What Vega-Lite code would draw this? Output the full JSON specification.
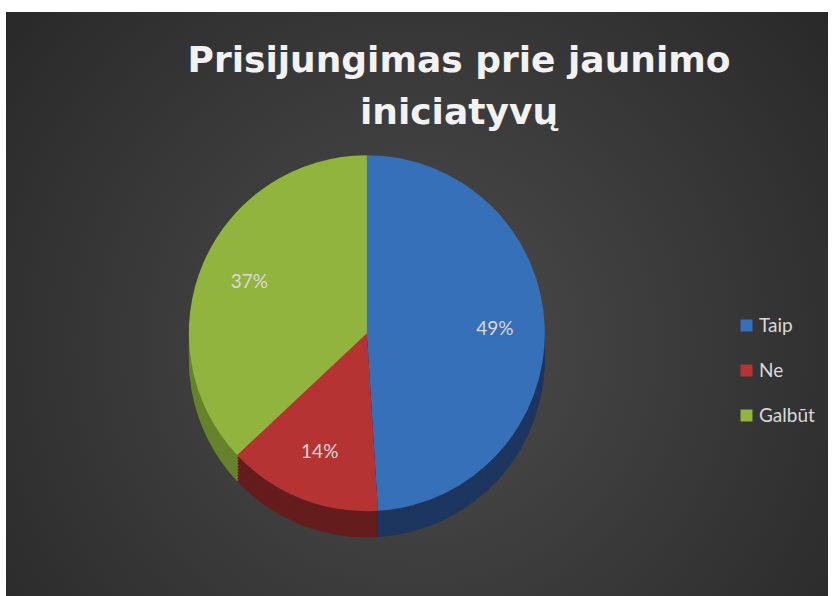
{
  "$schema": "https://vega.github.io/schema/vega-lite/v6.json",
  "width": 822,
  "height": 584,
  "autosize": {"type": "none"},
  "padding": {"left": 6, "top": 12, "right": 9, "bottom": 0},
  "background": "#ffffff",
  "config": {
    "view": {
      "stroke": null,
      "fill": {
        "gradient": "radial",
        "x1": 0.5, "y1": 0.55, "x2": 0.5, "y2": 0.55,
        "r1": 0, "r2": 0.75,
        "stops": [
          {"offset": 0, "color": "#4c4c4c"},
          {"offset": 1, "color": "#232323"}
        ]
      }
    },
    "legend": {
      "orient": "none",
      "legendX": 731,
      "legendY": 304,
      "symbolType": "square",
      "symbolSize": 144,
      "symbolStrokeWidth": 0,
      "labelFont": "Lato",
      "labelFontSize": 19,
      "labelColor": "#d9d9d9",
      "labelOffset": 3,
      "rowPadding": 25
    }
  },
  "title": {
    "text": ["Prisijungimas prie jaunimo", "iniciatyvų"],
    "font": "DejaVu Sans",
    "fontWeight": "bold",
    "fontSize": 36,
    "color": "#f2f2f2",
    "lineHeight": 52,
    "anchor": "middle",
    "baseline": "top",
    "dx": 42,
    "offset": -120
  },
  "data": {
    "values": [
      {"cat": "Taip", "value": 49, "ord": 1, "label": "49%"},
      {"cat": "Ne", "value": 14, "ord": 2, "label": "14%"},
      {"cat": "Galbūt", "value": 37, "ord": 3, "label": "37%"}
    ]
  },
  "encoding": {
    "theta": {"field": "value", "type": "quantitative", "stack": true},
    "order": {"field": "ord", "type": "quantitative"},
    "x": {"datum": 43.9, "type": "quantitative", "scale": {"domain": [0, 100]}, "axis": null}
  },
  "layer": [
    {
      "layer": [
        {"mark": {"type": "arc", "radius": 178}, "encoding": {"y": {"datum": 59.5, "type": "quantitative", "scale": {"domain": [0, 100], "reverse": true}, "axis": null}}},
        {"mark": {"type": "arc", "radius": 178}, "encoding": {"y": {"datum": 59, "type": "quantitative", "scale": {"domain": [0, 100], "reverse": true}, "axis": null}}},
        {"mark": {"type": "arc", "radius": 178}, "encoding": {"y": {"datum": 58.5, "type": "quantitative", "scale": {"domain": [0, 100], "reverse": true}, "axis": null}}},
        {"mark": {"type": "arc", "radius": 178}, "encoding": {"y": {"datum": 58, "type": "quantitative", "scale": {"domain": [0, 100], "reverse": true}, "axis": null}}},
        {"mark": {"type": "arc", "radius": 178}, "encoding": {"y": {"datum": 57.5, "type": "quantitative", "scale": {"domain": [0, 100], "reverse": true}, "axis": null}}},
        {"mark": {"type": "arc", "radius": 178}, "encoding": {"y": {"datum": 57, "type": "quantitative", "scale": {"domain": [0, 100], "reverse": true}, "axis": null}}},
        {"mark": {"type": "arc", "radius": 178}, "encoding": {"y": {"datum": 56.5, "type": "quantitative", "scale": {"domain": [0, 100], "reverse": true}, "axis": null}}},
        {"mark": {"type": "arc", "radius": 178}, "encoding": {"y": {"datum": 56, "type": "quantitative", "scale": {"domain": [0, 100], "reverse": true}, "axis": null}}},
        {"mark": {"type": "arc", "radius": 178}, "encoding": {"y": {"datum": 55.5, "type": "quantitative", "scale": {"domain": [0, 100], "reverse": true}, "axis": null}}}
      ],
      "encoding": {
        "color": {"field": "cat", "type": "nominal", "legend": null,
          "scale": {"domain": ["Taip", "Ne", "Galbūt"], "range": ["#1d365f", "#651c1c", "#66832b"]}}
      }
    },
    {
      "layer": [
        {
          "mark": {"type": "arc", "radius": 178},
          "encoding": {
            "y": {"datum": 55, "type": "quantitative", "scale": {"domain": [0, 100], "reverse": true}, "axis": null}
          }
        },
        {
          "mark": {"type": "text", "radius": 128, "font": "Lato", "fontSize": 19},
          "encoding": {
            "y": {"datum": 55, "type": "quantitative", "scale": {"domain": [0, 100], "reverse": true}, "axis": null},
            "text": {"field": "label", "type": "nominal"},
            "color": {"value": "#d9d9d9"}
          }
        }
      ],
      "encoding": {
        "color": {"field": "cat", "type": "nominal",
          "scale": {"domain": ["Taip", "Ne", "Galbūt"], "range": ["#3670b9", "#b53433", "#91b43f"]},
          "legend": {"title": null}
        }
      }
    }
  ],
  "resolve": {"scale": {"color": "independent"}, "legend": {"color": "independent"}}
}
